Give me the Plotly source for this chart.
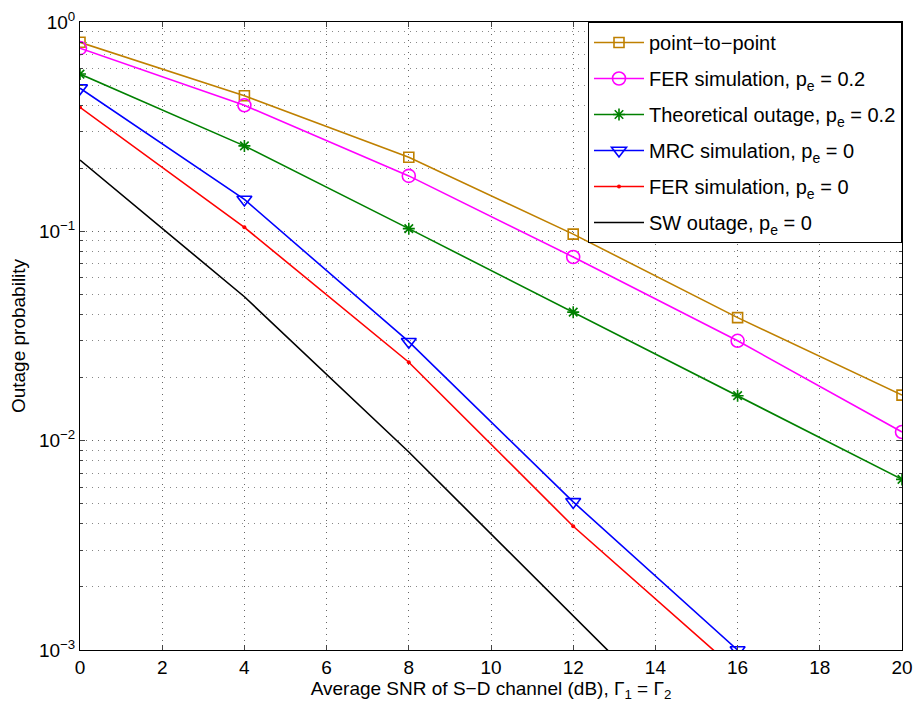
import plotly.graph_objects as go

snr = [0, 4, 8, 12, 16, 20]
p2p = [0.80, 0.444, 0.226, 0.097, 0.0387, 0.0165]
fer_02 = [0.75, 0.40, 0.184, 0.0754, 0.030, 0.0110]
theo_02 = [0.564, 0.256, 0.103, 0.0411, 0.0164, 0.00653]
snr_mrc = [0, 4, 8, 12, 16]
mrc_0 = [0.483, 0.142, 0.0297, 0.0051, 0.0010]
fer_0 = [0.391, 0.1045, 0.0237, 0.0039, 0.00079]
sw_0 = [0.219, 0.0487, 0.00883, 0.00147, 0.00024]

names = [
    "point\u2212to\u2212point",
    "FER simulation, p<sub>e</sub> = 0.2",
    "Theoretical outage, p<sub>e</sub> = 0.2",
    "MRC simulation, p<sub>e</sub> = 0",
    "FER simulation, p<sub>e</sub> = 0",
    "SW outage, p<sub>e</sub> = 0",
]
ytickvals = [1e-3, 1e-2, 1e-1, 1]
yticktext = ["10<sup>\u22123</sup>", "10<sup>\u22122</sup>", "10<sup>\u22121</sup>", "10<sup>0</sup>"]
xtickvals = list(range(0, 21, 2))

FONT = "Liberation Sans"
fig = go.Figure()

def add(x, y, name, color, symbol, size, lw=1.6, mlw=1.6, group="g"):
    fig.add_trace(go.Scatter(
        x=x, y=y, name=name, mode="lines+markers" if symbol else "lines",
        line=dict(color=color, width=lw),
        marker=dict(symbol=symbol or "circle", size=size, color=color,
                    line=dict(color=color, width=mlw)),
        legendgroup=group, cliponaxis=True,
    ))

add(snr, p2p, names[0], "#BF8000", "square-open", 10, group="a")
add(snr, fer_02, names[1], "#FF00FF", "circle-open", 13, group="b")
add(snr, theo_02, names[2], "#008000", "asterisk-open", 10, group="c")
add(snr_mrc, mrc_0, names[3], "#0000FF", "triangle-down-open", 13, group="d")
add(snr_mrc, fer_0, names[4], "#FF0000", "circle", 4, mlw=0, group="e")
add(snr_mrc, sw_0, names[5], "#000000", None, 1, group="f")

minor_vals = [m * 10 ** e for e in (-3, -2, -1) for m in range(2, 10)]

fig.update_layout(
    width=920, height=714,
    margin=dict(l=80, r=18, t=22, b=64),
    paper_bgcolor="white", plot_bgcolor="white",
    font=dict(family=FONT, size=19, color="black"),
    showlegend=True,
    legend=dict(x=1, y=1, xanchor="right", yanchor="top",
                bgcolor="white", bordercolor="black", borderwidth=1,
                font=dict(family=FONT, size=20), traceorder="grouped",
                tracegroupgap=7, itemwidth=50),
    xaxis=dict(range=[0, 20], tickvals=xtickvals, ticks="inside", ticklen=5,
               showline=True, linecolor="black", linewidth=1, mirror="ticks",
               showgrid=True, gridcolor="#666", griddash="1px,5px", gridwidth=1,
               zeroline=False, automargin=False,
               title=dict(text="Average SNR of S\u2212D channel (dB), \u0393<sub>1</sub> = \u0393<sub>2</sub>",
                          standoff=4, font=dict(size=19))),
    yaxis=dict(type="log", range=[-3, 0], tickvals=ytickvals, ticktext=yticktext,
               ticks="inside", ticklen=5, automargin=False,
               showline=True, linecolor="black", linewidth=1, mirror="ticks",
               showgrid=True, gridcolor="#666", griddash="1px,5px", gridwidth=1,
               minor=dict(tickvals=minor_vals, ticks="inside", ticklen=3,
                          showgrid=True, gridcolor="#888", griddash="1px,5px", gridwidth=1),
               title=dict(text="Outage probability", standoff=8, font=dict(size=19))),
)

fig.write_html("out.html", config={"displayModeBar": False},
               post_script="document.body.style.margin='0';document.body.style.overflow='hidden';")
